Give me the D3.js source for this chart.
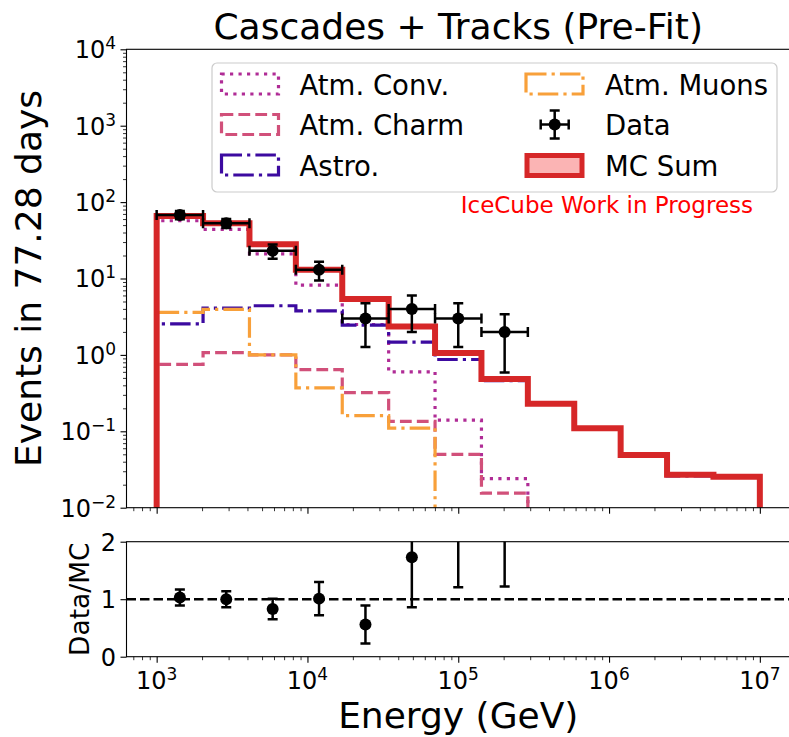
<!DOCTYPE html>
<meta charset="utf-8">
<script src="https://d3js.org/d3.v7.min.js"></script>
<style>
  body { margin: 0; background: #fff; }
  text { font-family: "DejaVu Sans", sans-serif; fill: #000; }
</style>
<div id="my_dataviz"></div>
<script>

// bin edges (GeV), 13 log bins from 1e3 to 1e7
var binEdges = [1000, 2031, 4125, 8377, 17013, 34551, 70170, 142510, 289427,
                587802, 1193777, 2424462, 4923883, 10000000];

// expected events per bin
var atmConv  = [57, 44, 21, 8.2, 2.5, 0.6, 0.14, 0.024, 0, 0, 0, 0, 0];
var atmCharm = [0.75, 1.07, 1.0, 0.64, 0.32, 0.135, 0.05, 0.0155, 0, 0, 0, 0, 0];
var astro    = [2.55, 4.1, 4.4, 3.77, 2.45, 1.47, 0.87, 0.46, 0.225, 0.107, 0.048, 0.026, 0.025];
var atmMuons = [3.6, 3.95, 1.0, 0.37, 0.16, 0.11, 0, 0, 0, 0, 0, 0, 0];
var mcSum    = [66, 53, 28, 13, 5.4, 2.35, 1.06, 0.485, 0.23, 0.11, 0.049, 0.027, 0.0255];

// observed data (first 8 bins)
var dataCounts = [68, 53, 23, 13, 3, 4, 3, 2];
var dataErrors = [8.2, 7.3, 4.8, 3.6, 1.73, 2, 1.73, 1.41];

// ratio panel
var ratioVals   = [1.03, 1.0, 0.83, 1.01, 0.56, 1.73, 2.86, 4.12];
var ratioErrors = [0.14, 0.14, 0.18, 0.29, 0.33, 0.87, 1.65, 2.9];

var xMajor = [1e3, 1e4, 1e5, 1e6, 1e7];
var yMajor = [-2, -1, 0, 1, 2, 3, 4];
var ratioTicks = [0, 1, 2];

// layout
var W = 789, H = 737;
var left = 126.5, right = 790;
var mainTop = 49.3, mainBottom = 507.7;
var ratTop = 541.7, ratBottom = 656.7;

var svg = d3.select("#my_dataviz").append("svg")
  .attr("width", W).attr("height", H);
svg.append("rect").attr("width", W).attr("height", H).attr("fill", "#fff");

var x = d3.scaleLog().domain([Math.pow(10, 2.8), Math.pow(10, 7.2)]).range([left, right]);
var y = d3.scaleLog().domain([1e-2, 1e4]).range([mainBottom, mainTop]);
var yr = d3.scaleLinear().domain([0, 2]).range([ratBottom, ratTop]);

var defs = svg.append("defs");
defs.append("clipPath").attr("id", "clipMain").append("rect")
  .attr("x", left).attr("y", mainTop).attr("width", right - left).attr("height", mainBottom - mainTop);
defs.append("clipPath").attr("id", "clipRat").append("rect")
  .attr("x", left).attr("y", ratTop).attr("width", right - left).attr("height", ratBottom - ratTop);

// ---------- main panel ----------
var styles = [
  {name: "Atm. Conv.",  vals: atmConv,  color: "#b02c96", dash: "3.2,5.3"},
  {name: "Atm. Charm",  vals: atmCharm, color: "#d1507a", dash: "11.8,5.1"},
  {name: "Astro.",      vals: astro,    color: "#3c0aa0", dash: "20.5,5.1,3.2,5.1"},
  {name: "Atm. Muons",  vals: atmMuons, color: "#f8a03a", dash: "20.5,5.1,3.2,5.1"}
];

function stepPoints(vals) {
  var floor = 1e-5, pts = [[binEdges[0], floor]];
  vals.forEach(function(v, i) {
    var vv = v > 0 ? v : floor;
    pts.push([binEdges[i], vv]);
    pts.push([binEdges[i + 1], vv]);
  });
  pts.push([binEdges[binEdges.length - 1], floor]);
  return pts;
}
var line = d3.line()
  .x(function(d) { return x(d[0]); })
  .y(function(d) { return Math.min(y(d[1]), mainBottom + 40); });

var gMain = svg.append("g").attr("clip-path", "url(#clipMain)");
styles.forEach(function(s) {
  gMain.append("path")
    .attr("d", line(stepPoints(s.vals)))
    .attr("fill", "none")
    .attr("stroke", s.color)
    .attr("stroke-width", 3.2)
    .attr("stroke-dasharray", s.dash);
});
gMain.append("path")
  .attr("d", line(stepPoints(mcSum)))
  .attr("fill", "none")
  .attr("stroke", "#d62728")
  .attr("stroke-width", 6)
  .attr("stroke-linejoin", "miter");

// data points with error bars
var cap = 5;
dataCounts.forEach(function(v, i) {
  var cx = x(Math.sqrt(binEdges[i] * binEdges[i + 1]));
  var x0 = x(binEdges[i]), x1 = x(binEdges[i + 1]);
  var cy = y(v), yHi = y(v + dataErrors[i]), yLo = y(Math.max(v - dataErrors[i], 1e-3));
  var g = gMain.append("g").attr("stroke", "#000").attr("stroke-width", 2.5);
  g.append("line").attr("x1", x0).attr("x2", x1).attr("y1", cy).attr("y2", cy);
  g.append("line").attr("x1", cx).attr("x2", cx).attr("y1", yHi).attr("y2", yLo);
  g.append("line").attr("x1", x0).attr("x2", x0).attr("y1", cy - cap).attr("y2", cy + cap);
  g.append("line").attr("x1", x1).attr("x2", x1).attr("y1", cy - cap).attr("y2", cy + cap);
  g.append("line").attr("x1", cx - cap).attr("x2", cx + cap).attr("y1", yHi).attr("y2", yHi);
  g.append("line").attr("x1", cx - cap).attr("x2", cx + cap).attr("y1", yLo).attr("y2", yLo);
  gMain.append("circle").attr("cx", cx).attr("cy", cy).attr("r", 6).attr("fill", "#000");
});

// ---------- ratio panel ----------
var gRat = svg.append("g").attr("clip-path", "url(#clipRat)");
gRat.append("line")
  .attr("x1", left).attr("x2", right).attr("y1", yr(1)).attr("y2", yr(1))
  .attr("stroke", "#000").attr("stroke-width", 2.6).attr("stroke-dasharray", "9.5,4");
ratioVals.forEach(function(v, i) {
  var cx = x(Math.sqrt(binEdges[i] * binEdges[i + 1]));
  var yHi = yr(v + ratioErrors[i]), yLo = yr(v - ratioErrors[i]);
  var g = gRat.append("g").attr("stroke", "#000").attr("stroke-width", 2.5);
  g.append("line").attr("x1", cx).attr("x2", cx).attr("y1", yHi).attr("y2", yLo);
  g.append("line").attr("x1", cx - cap).attr("x2", cx + cap).attr("y1", yHi).attr("y2", yHi);
  g.append("line").attr("x1", cx - cap).attr("x2", cx + cap).attr("y1", yLo).attr("y2", yLo);
  gRat.append("circle").attr("cx", cx).attr("cy", yr(v)).attr("r", 6).attr("fill", "#000");
});

// ---------- axes ----------
var xMinor = [];
[2, 3, 4, 5, 6, 7].forEach(function(n) {
  for (var k = 2; k <= 9; k++) {
    var v = k * Math.pow(10, n);
    if (v > x.domain()[0] && v < x.domain()[1]) xMinor.push(v);
  }
});
var yMinor = [];
[-2, -1, 0, 1, 2, 3].forEach(function(n) {
  for (var k = 2; k <= 9; k++) yMinor.push(k * Math.pow(10, n));
});

function styleAxis(g, w) {
  g.select(".domain").remove();
  g.selectAll(".tick line").attr("stroke", "#000").attr("stroke-width", w);
  g.selectAll(".tick text").remove();
}

[mainBottom, ratBottom].forEach(function(yy) {
  svg.append("g").attr("transform", "translate(0," + yy + ")")
    .call(d3.axisBottom(x).tickValues(xMajor).tickSize(6).tickSizeOuter(0))
    .call(styleAxis, 1.1);
  svg.append("g").attr("transform", "translate(0," + yy + ")")
    .call(d3.axisBottom(x).tickValues(xMinor).tickSize(3.5).tickSizeOuter(0))
    .call(styleAxis, 0.8);
});
svg.append("g").attr("transform", "translate(" + left + ",0)")
  .call(d3.axisLeft(y).tickValues(yMajor.map(function(e) { return Math.pow(10, e); })).tickSize(6).tickSizeOuter(0))
  .call(styleAxis, 1.1);
svg.append("g").attr("transform", "translate(" + left + ",0)")
  .call(d3.axisLeft(y).tickValues(yMinor).tickSize(3.5).tickSizeOuter(0))
  .call(styleAxis, 0.8);
svg.append("g").attr("transform", "translate(" + left + ",0)")
  .call(d3.axisLeft(yr).tickValues(ratioTicks).tickSize(6).tickSizeOuter(0))
  .call(styleAxis, 1.1);

// frames (right spine sits just outside the picture)
[[mainTop, mainBottom], [ratTop, ratBottom]].forEach(function(p) {
  svg.append("rect").attr("x", left).attr("y", p[0])
    .attr("width", right + 2 - left).attr("height", p[1] - p[0])
    .attr("fill", "none").attr("stroke", "#000").attr("stroke-width", 1.1);
});

// tick labels
function powLabel(t, e) {
  t.text("10");
  t.append("tspan").attr("dy", -9).attr("font-size", 17)
    .text(e < 0 ? "\u2212" + (-e) : e);
}
yMajor.forEach(function(e) {
  svg.append("text").attr("x", 116).attr("y", y(Math.pow(10, e)) + 8.8)
    .attr("text-anchor", "end").attr("font-size", 24)
    .call(powLabel, e);
});
xMajor.forEach(function(v) {
  svg.append("text").attr("x", x(v)).attr("y", 689)
    .attr("text-anchor", "middle").attr("font-size", 24)
    .call(powLabel, Math.round(Math.log10(v)));
});
ratioTicks.forEach(function(v) {
  svg.append("text").attr("x", 116).attr("y", yr(v) + 8.8)
    .attr("text-anchor", "end").attr("font-size", 24).text(v);
});

// titles
svg.append("text").attr("x", (left + right) / 2).attr("y", 39)
  .attr("text-anchor", "middle").attr("font-size", 36)
  .text("Cascades + Tracks (Pre-Fit)");
svg.append("text").attr("transform", "translate(41," + (mainTop + mainBottom) / 2 + ") rotate(-90)")
  .attr("text-anchor", "middle").attr("font-size", 36)
  .text("Events in 77.28 days");
svg.append("text").attr("transform", "translate(88.5," + yr(1) + ") rotate(-90)")
  .attr("text-anchor", "middle").attr("font-size", 26.5)
  .text("Data/MC");
svg.append("text").attr("x", (left + right) / 2).attr("y", 728)
  .attr("text-anchor", "middle").attr("font-size", 36)
  .text("Energy (GeV)");
svg.append("text").attr("x", 753).attr("y", 213)
  .attr("text-anchor", "end").attr("font-size", 23)
  .style("fill", "#ff0000")
  .text("IceCube Work in Progress");

// ---------- legend ----------
var leg = svg.append("g");
leg.append("rect").attr("x", 212).attr("y", 63).attr("width", 565).attr("height", 129)
  .attr("rx", 5).attr("fill", "#fff").attr("fill-opacity", 0.8)
  .attr("stroke", "#cccccc").attr("stroke-width", 1.2);
var rowY = [84, 124.5, 165];
var hw = 57, hh = 20;
styles.forEach(function(s, i) {
  var col = i < 3 ? 0 : 1, row = i < 3 ? i : 0;
  var hx = col === 0 ? 221.5 : 526;
  leg.append("rect").attr("x", hx).attr("y", rowY[row] - hh / 2)
    .attr("width", hw).attr("height", hh)
    .attr("fill", "none").attr("stroke", s.color)
    .attr("stroke-width", 3.2).attr("stroke-dasharray", s.dash);
  leg.append("text").attr("x", col === 0 ? 299.5 : 605).attr("y", rowY[row] + 10.5)
    .attr("font-size", 27.5).text(s.name);
});
// data handle
var dx = 554.7, dy = rowY[1];
var dg = leg.append("g").attr("stroke", "#000").attr("stroke-width", 2.5);
dg.append("line").attr("x1", dx - 14).attr("x2", dx + 14).attr("y1", dy).attr("y2", dy);
dg.append("line").attr("x1", dx).attr("x2", dx).attr("y1", dy - 14).attr("y2", dy + 14);
dg.append("line").attr("x1", dx - 14).attr("x2", dx - 14).attr("y1", dy - cap).attr("y2", dy + cap);
dg.append("line").attr("x1", dx + 14).attr("x2", dx + 14).attr("y1", dy - cap).attr("y2", dy + cap);
dg.append("line").attr("x1", dx - cap).attr("x2", dx + cap).attr("y1", dy - 14).attr("y2", dy - 14);
dg.append("line").attr("x1", dx - cap).attr("x2", dx + cap).attr("y1", dy + 14).attr("y2", dy + 14);
leg.append("circle").attr("cx", dx).attr("cy", dy).attr("r", 6).attr("fill", "#000");
leg.append("text").attr("x", 605).attr("y", rowY[1] + 10.5).attr("font-size", 27.5).text("Data");
// MC sum handle
leg.append("rect").attr("x", 527).attr("y", 155.5).attr("width", 55).attr("height", 20)
  .attr("fill", "#fbb4b4").attr("stroke", "#d62728").attr("stroke-width", 5);
leg.append("text").attr("x", 605).attr("y", rowY[2] + 10.5).attr("font-size", 27.5).text("MC Sum");

</script>
